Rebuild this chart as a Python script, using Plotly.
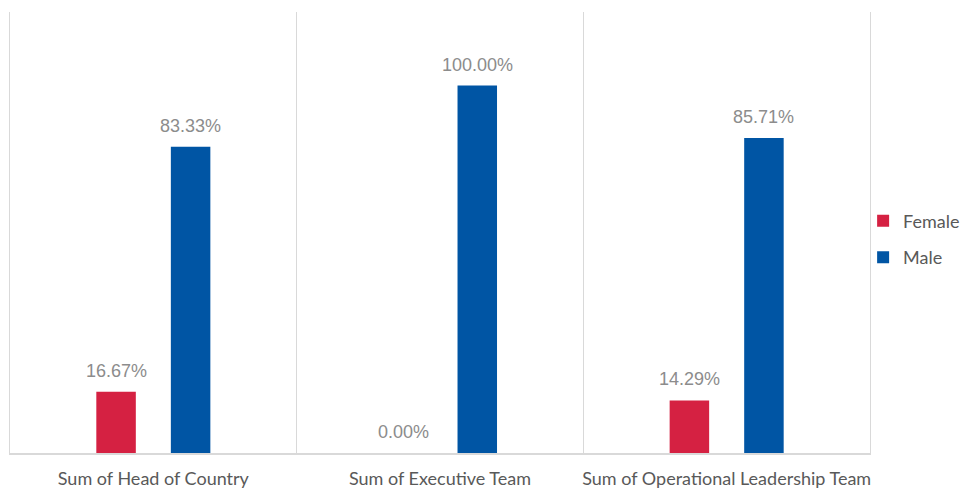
import plotly.graph_objects as go

categories = ["Sum of Head of Country", "Sum of Executive Team", "Sum of Operational Leadership Team"]
female = [16.67, 0.00, 14.29]
male = [83.33, 100.00, 85.71]

RED = "#D52142"
BLUE = "#0055A4"
LABEL_GREY = "#8C8C8C"
AXIS_GREY = "#595959"
LINE_GREY = "#D9D9D9"

fig = go.Figure()
for name, vals, col in [("Female", female, RED), ("Male", male, BLUE)]:
    fig.add_trace(go.Bar(
        name=name, x=categories, y=vals, marker_color=col,
        marker_line_width=0, legendgroup=name,
        cliponaxis=False,
    ))
    # value labels sit a little above each bar top
    for c, v in zip(categories, vals):
        fig.add_annotation(
            x=c, y=v, text=f"{v:.2f}%", showarrow=False,
            xref="x", yref="y", yanchor="bottom", yshift=9,
            xshift=-37 if name == "Female" else 37,
            font=dict(family="Liberation Sans, Arial, sans-serif", size=18, color=LABEL_GREY),
        )

fig.update_layout(
    width=968, height=489,
    margin=dict(l=10, r=98, t=12, b=36, autoexpand=False),
    paper_bgcolor="white", plot_bgcolor="white",
    barmode="group", bargap=0.48, bargroupgap=0.47,
    showlegend=True,
    legend=dict(
        x=0.992, xanchor="left", y=0.485, yanchor="middle",
        bgcolor="rgba(0,0,0,0)",
        font=dict(family="Lato, sans-serif", size=18, color=AXIS_GREY),
        tracegroupgap=10, itemwidth=30,
    ),
    font=dict(family="Lato, sans-serif", color=AXIS_GREY),
)
fig.update_xaxes(
    type="category", tickson="boundaries", ticks="", showgrid=True,
    gridcolor=LINE_GREY, gridwidth=1, showline=True, linecolor=LINE_GREY, linewidth=2,
    mirror=False, ticklabelstandoff=8, tickangle=0,
    tickfont=dict(family="Lato, sans-serif", size=18, color=AXIS_GREY),
    fixedrange=True,
)
# frame lines on the left and right edges of the plot area
fig.update_yaxes(
    range=[0, 120], showticklabels=False, ticks="", showgrid=False, zeroline=False,
    showline=True, mirror=True, linecolor=LINE_GREY, linewidth=1,
)

fig.write_html("out.html")
